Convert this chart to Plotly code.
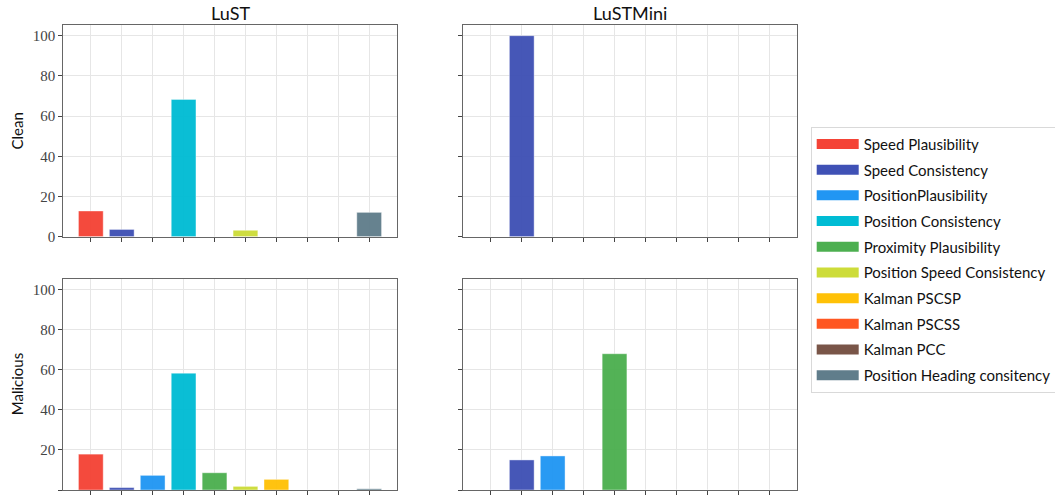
import plotly.graph_objects as go

detectors = ["Speed Plausibility", "Speed Consistency", "PositionPlausibility",
             "Position Consistency", "Proximity Plausibility", "Position Speed Consistency",
             "Kalman PSCSP", "Kalman PSCSS", "Kalman PCC", "Position Heading consitency"]
colors = ["#F44336", "#3F51B5", "#2196F3", "#00BCD4", "#4CAF50", "#CDDC39",
          "#FFC107", "#FF5722", "#795548", "#607D8B"]

lust_clean = [12.8, 3.6, 0, 68.3, 0, 3.2, 0, 0, 0, 12.1]
lustmini_clean = [0, 100, 0, 0, 0, 0, 0, 0, 0, 0]
lust_malicious = [17.9, 1.2, 7.3, 58.3, 8.6, 1.8, 5.3, 0, 0, 0.6]
lustmini_malicious = [0, 15.0, 17.0, 0, 68.0, 0, 0, 0, 0, 0]

W, H = 1055, 498
fig = go.Figure()

panels = [
    (lust_clean, "x", "y"),
    (lustmini_clean, "x2", "y2"),
    (lust_malicious, "x3", "y3"),
    (lustmini_malicious, "x4", "y4"),
]
xpos = list(range(len(detectors)))
for vals, xa, ya in panels:
    for i, (name, c) in enumerate(zip(detectors, colors)):
        fig.add_trace(go.Bar(
            x=[xpos[i]], y=[vals[i]], width=0.8, name=name,
            marker=dict(color=c, opacity=0.96, line=dict(color="rgba(255,255,255,0.5)", width=0.8)),
            showlegend=False, xaxis=xa, yaxis=ya))

# legend entries as wide line swatches
for i, (name, c) in enumerate(zip(detectors, colors)):
    fig.add_trace(go.Scatter(x=[None], y=[None], mode="lines", name=name,
                             line=dict(color=c, width=10), legendgroup=f"g{i}",
                             xaxis="x", yaxis="y"))

xdom_l = [63.3 / W, 396.7 / W]
xdom_r = [463.3 / W, 796.7 / W]
ydom_t = [1 - 236.7 / H, 1 - 25 / H]
ydom_b = [1 - 490 / H, 1 - 279 / H]

grid = "#e6e6e6"
axis_common = dict(showline=True, linecolor="#666", linewidth=1, mirror=True,
                   showgrid=True, gridcolor=grid, gridwidth=1, zeroline=False,
                   ticks="outside", ticklen=4, tickcolor="#444", tickwidth=1)
xax = dict(range=[-0.89, 9.89], tickvals=xpos, showticklabels=False, **axis_common)
yax = dict(range=[0, 105.3], tickvals=[0, 20, 40, 60, 80, 100],
           tickfont=dict(family="Liberation Serif", size=15, color="#444"), **axis_common)

fig.update_layout(
    width=W, height=H, margin=dict(l=0, r=0, t=0, b=0, autoexpand=False),
    plot_bgcolor="white", paper_bgcolor="white", barmode="overlay",
    xaxis=dict(domain=xdom_l, anchor="y", **xax),
    yaxis=dict(domain=ydom_t, anchor="x", **yax),
    xaxis2=dict(domain=xdom_r, anchor="y2", **xax),
    yaxis2=dict(domain=ydom_t, anchor="x2", matches="y", showticklabels=False, **yax),
    xaxis3=dict(domain=xdom_l, anchor="y3", **xax),
    yaxis3=dict(domain=ydom_b, anchor="x3", matches="y", **yax),
    xaxis4=dict(domain=xdom_r, anchor="y4", **xax),
    yaxis4=dict(domain=ydom_b, anchor="x4", matches="y", showticklabels=False, **yax),
    legend=dict(x=810.7 / W, y=1 - 126.7 / H, xanchor="left", yanchor="top",
                bordercolor="#d9d9d9", borderwidth=1, bgcolor="white",
                font=dict(family="Lato", size=15, color="#111"),
                traceorder="grouped", tracegroupgap=3.2, itemwidth=42),
)

annots = [
    dict(text="LuST", x=(xdom_l[0] + xdom_l[1]) / 2, y=1 - 13 / H, size=18, angle=0),
    dict(text="LuSTMini", x=(xdom_r[0] + xdom_r[1]) / 2, y=1 - 13 / H, size=18, angle=0),
    dict(text="Clean", x=16.7 / W, y=(ydom_t[0] + ydom_t[1]) / 2, size=15, angle=-90),
    dict(text="Malicious", x=16.7 / W, y=(ydom_b[0] + ydom_b[1]) / 2, size=15, angle=-90),
]
for a in annots:
    fig.add_annotation(text=a["text"], x=a["x"], y=a["y"], xref="paper", yref="paper",
                       xanchor="center", yanchor="middle", showarrow=False, textangle=a["angle"],
                       font=dict(family="Lato", size=a["size"], color="#111"))

fig.write_html("out.html")
